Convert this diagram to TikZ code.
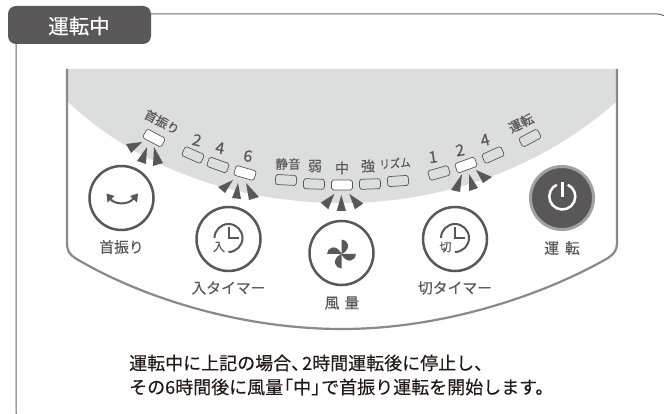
\documentclass[tikz,border=0pt]{standalone}
\usepackage{fontspec}
\setmainfont[RawFeature={embolden=0.2}]{Noto Sans CJK JP}
\definecolor{dk}{HTML}{595757}
\definecolor{md}{HTML}{898989}
\definecolor{lt}{HTML}{DCDDDD}
\definecolor{tx}{HTML}{231815}
\newcommand{\fs}[1]{\fontsize{#1}{#1}\selectfont}
\tikzset{
 led/.style={draw=dk,line width=0.7pt,rounded corners=1.8pt,minimum width=21pt,minimum height=10pt,inner sep=0pt,fill=lt},
 ledon/.style={led,fill=white},
 lab/.style={text=dk,inner sep=0pt,font=\fs{12.5}},
 captext/.style={text=dk,inner sep=0pt,font=\fs{14.8}},
 btn/.style={circle,draw=dk,line width=2.5pt,minimum size=64pt,inner sep=0pt,fill=white},
 tri/.style={fill=dk,draw=none},
 icon/.style={draw=dk,line width=2pt},
}
\newcommand{\tria}[6]{\fill[tri] (#1,#2) -- (#3,#4) -- (#5,#6) -- cycle;}
\begin{document}
\begin{tikzpicture}[x=1pt,y=-1pt]
\useasboundingbox (0,0) rectangle (664,414);
\fill[white] (0,0) rectangle (664,414);
\begin{scope}
\clip (0,0) rectangle (664,414);
\draw[dk!90,line width=1pt,rounded corners=15pt] (16,14) rectangle (672,426);
\end{scope}
\node[draw=none,fill=dk,rounded corners=8pt,minimum width=143pt,minimum height=38pt,inner sep=0pt] (tab) at (79.5,25) {};
\node[text=white,inner sep=0pt,font=\fs{20.5}] (tabt) at (79,26) {運転中};
% panel
\fill[lt] (67,69) -- (617,69) -- (617,101) .. controls (540,170) and (440,203) .. (342,203) .. controls (240,203) and (140,170) .. (67,101) -- cycle;
\draw[md,line width=2.2pt,line join=round] (67,69) -- (67,243) .. controls (67,250) and (69,254) .. (75,258)
 .. controls (140,297) and (240,329) .. (342,329)
 .. controls (440,329) and (540,297) .. (608,258)
 .. controls (614,254) and (617,250) .. (617,243) -- (617,69);
% LEDs
\node[ledon,rotate=-28] (l1) at (154,138) {};
\node[led,rotate=-24] (l2) at (193,155) {};
\node[led,rotate=-20] (l3) at (218,165) {};
\node[ledon,rotate=-16] (l4) at (245,173) {};
\node[led,rotate=-3] (l5) at (286,180) {};
\node[led,rotate=-2] (l6) at (314,184) {};
\node[ledon] (l7) at (342,185) {};
\node[led,rotate=2] (l8) at (370,184) {};
\node[led,rotate=4] (l9) at (398,181) {};
\node[led,rotate=16] (l10) at (439,173) {};
\node[ledon,rotate=20] (l11) at (466,165) {};
\node[led,rotate=24] (l12) at (493,155) {};
\node[led,rotate=28] (l13) at (530,138) {};
% LED labels
\node[lab,rotate=-28] (t1) at (162,122) {首振り};
\node[lab,font=\fs{16},rotate=-14] (t2) at (197,140) {2};
\node[lab,font=\fs{16},rotate=-10] (t3) at (220,148) {4};
\node[lab,font=\fs{16},rotate=-8] (t4) at (248,156) {6};
\node[lab,font=\fs{12.5}] (t5) at (288,164) {静音};
\node[lab,font=\fs{14}] (t6) at (315,166) {弱};
\node[lab,font=\fs{14}] (t7) at (342,168) {中};
\node[lab,font=\fs{14}] (t8) at (368,166) {強};
\node[lab,font=\fs{11.5},rotate=4,xscale=0.9] (t9) at (395,163) {リズム};
\node[lab,font=\fs{16},rotate=8] (t10) at (433,157) {1};
\node[lab,font=\fs{16},rotate=10] (t11) at (460,150) {2};
\node[lab,font=\fs{16},rotate=14] (t12) at (485,140) {4};
\node[lab,font=\fs{13},rotate=26] (t13) at (521,123) {運転};
% triangles
\tria{142}{142}{126}{144}{131}{153}
\tria{147}{147}{137}{161}{146}{164}
\tria{154}{147}{153}{166}{163}{163}
\tria{233}{180}{218}{187}{225}{193}
\tria{238}{183}{232}{198}{241}{199}
\tria{246}{183}{249}{200}{259}{197}
\tria{334.3}{194}{320.7}{202.7}{328.3}{209.3}
\tria{341.3}{195}{336.7}{211}{346}{211}
\tria{349.3}{194}{355}{209.3}{363.3}{203.3}
\tria{462}{174}{451}{190}{460}{192}
\tria{469}{174}{469}{191}{478}{188}
\tria{476}{170}{483}{183}{492}{177}
% buttons
\node[btn] (b1) at (121.5,198) {};
\node[btn] (b2) at (228.5,239) {};
\node[btn] (b3) at (341.5,253) {};
\node[btn] (b4) at (455,239) {};
\node[circle,fill=dk,draw=md!80,line width=3pt,minimum size=63pt,inner sep=0pt] (b5) at (562,198) {};
% swing icon
\draw[icon] (110,198.5) .. controls (114,205) and (129,205) .. (133.5,198.5);
\fill[dk] (106.5,193.5) -- (107.5,202.5) -- (114.5,196) -- cycle;
\fill[dk] (138,193.5) -- (137,202.5) -- (130,196) -- cycle;
% clock icons
\foreach \cx/\lbl in {228.5/入,455/切}{
 \draw[icon,line cap=butt] (\cx,238) ++(180:14pt) arc[start angle=180,end angle=-90,radius=14pt];
 \draw[icon,line join=miter] (\cx,227) -- (\cx,238) -- (\cx+10,238);
 \node[lab,font=\fs{12}] at (\cx-9.5,247) {\lbl};
}
% fan icon
\foreach \a in {0,90,180,270}{
 \fill[dk,shift={(341.5,254)},rotate=\a] (0,0) -- (0,-14.5) .. controls (6,-14.5) and (11,-6) .. (0.5,0) -- cycle;
}
% power icon
\draw[white,line width=2.5pt] (562.3,196.5) ++(65:13pt) arc[start angle=65,end angle=-245,radius=13pt];
\draw[white,line width=2.5pt] (562.3,182.5) -- (562.3,197.5);
% captions
\node[captext] (c1) at (121.5,247) {首振り};
\node[captext] (c2) at (228.5,288) {入タイマー};
\node[captext] (c3) at (342,303) {風\hspace{5pt}量};
\node[captext] (c4) at (455,288) {切タイマー};
\node[captext] (c5) at (562,248) {運\hspace{6pt}転};
% bottom text
\node[text=tx,inner sep=0pt,font=\fs{18},anchor=west] (s1) at (129,363) {運転中に上記の場合、\hspace{-7pt}2時間運転後に停止し、};
\node[text=tx,inner sep=0pt,font=\fs{18},anchor=west] (s2) at (129,387) {その6時間後に風量\hspace{-8pt}「中」\hspace{-8pt}で首振り運転を開始します。};
\end{tikzpicture}
\end{document}
